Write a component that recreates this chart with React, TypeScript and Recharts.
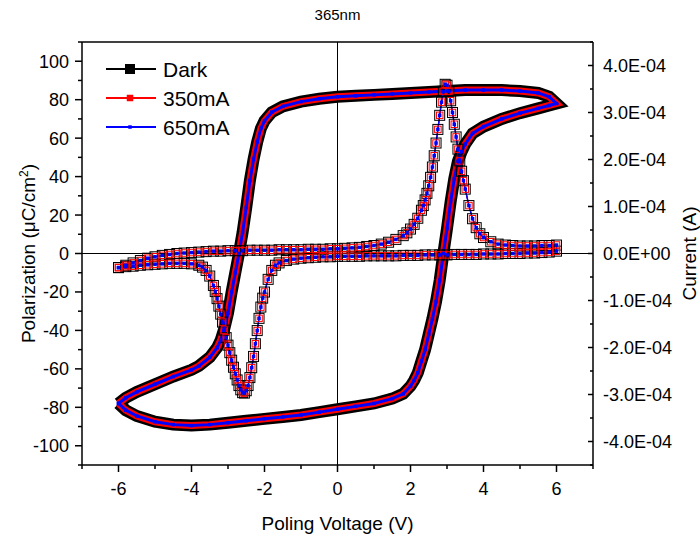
import React from "react";
import { ComposedChart, Line, XAxis, YAxis, ReferenceLine, Legend, Label } from "recharts";

// ── Data ─────────────────────────────────────────────────────────────────────

const TITLE = "365nm";

// P–V loop: lower branch -6 → 6, then upper branch 6 → -6
const loopVoltage = [
  -6.0, -5.8, -5.5, -5.0, -4.5, -4.0, -3.5, -3.0, -2.5, -2.0, -1.5, -1.0, -0.5, 0, 0.5, 1.0, 1.5, 1.8,
  2.0, 2.1, 2.2, 2.3, 2.4, 2.5, 2.6, 2.7, 2.8, 2.9, 3.0, 3.1, 3.2, 3.3, 3.4, 3.5, 3.7, 4.0, 4.5, 5.0, 5.5, 5.8, 6.0,
  5.8, 5.5, 5.0, 4.5, 4.0, 3.5, 3.0, 2.5, 2.0, 1.5, 1.0, 0.5, 0, -0.5, -1.0, -1.5, -1.8,
  -2.0, -2.1, -2.2, -2.3, -2.4, -2.5, -2.6, -2.7, -2.8, -2.9, -3.0, -3.1, -3.2, -3.3, -3.5, -3.8, -4.0, -4.5, -5.0, -5.5, -5.8, -6.0,
];
const darkPolarization = [
  -78, -81.5, -84.5, -87.5, -89, -89.5, -89, -88, -87, -86, -85, -84, -82.5, -81, -79.5, -78, -75.5, -73,
  -69, -66, -62, -56, -50, -42, -34, -25, -14, 0, 13, 27, 39, 48, 53, 57, 62.5, 66, 70, 73, 75.5, 77, 78,
  81.5, 83.5, 84.5, 85, 85, 85, 84.5, 84, 83.5, 83, 82.5, 82, 81.5, 80.5, 79, 76.5, 73.5,
  69, 65, 58, 49, 38, 24, 11, 0, -10, -20, -31, -39, -45, -49, -54, -58.5, -60.5, -64, -68, -72, -75, -78,
];
// the two illuminated loops sit on top of the dark one
const mA350Polarization = darkPolarization;
const mA650Polarization = darkPolarization;

// I–V loop: -6 → 6, then 6 → -6 (values in A)
const currentVoltage = [
  -6.0, -5.8, -5.6, -5.4, -5.2, -5.0, -4.8, -4.6, -4.4, -4.2, -4.0, -3.8, -3.6, -3.4, -3.2, -3.0, -2.8, -2.6,
  -2.4, -2.2, -2.0, -1.8, -1.6, -1.4, -1.2, -1.0, -0.8, -0.6, -0.4, -0.2, 0, 0.2, 0.4, 0.6, 0.8, 1.0, 1.2, 1.4,
  1.6, 1.8, 1.9, 2.0, 2.1, 2.2, 2.3, 2.35, 2.4, 2.45, 2.5, 2.55, 2.6, 2.65, 2.7, 2.75, 2.8, 2.85, 2.9, 2.95,
  3.0, 3.05, 3.1, 3.15, 3.2, 3.25, 3.3, 3.35, 3.4, 3.45, 3.5, 3.6, 3.7, 3.8, 3.9, 4.0, 4.2, 4.4, 4.6, 4.8,
  5.0, 5.2, 5.4, 5.6, 5.8, 6.0,
  6.0, 5.8, 5.6, 5.4, 5.2, 5.0, 4.8, 4.6, 4.4, 4.2, 4.0, 3.8, 3.6, 3.4, 3.2, 3.0, 2.8, 2.6, 2.4, 2.2, 2.0,
  1.8, 1.6, 1.4, 1.2, 1.0, 0.8, 0.6, 0.4, 0.2, 0, -0.2, -0.4, -0.6, -0.8, -1.0, -1.2, -1.4, -1.6, -1.7,
  -1.8, -1.9, -2.0, -2.05, -2.1, -2.15, -2.2, -2.25, -2.3, -2.35, -2.4, -2.45, -2.5, -2.55, -2.6, -2.65,
  -2.7, -2.75, -2.8, -2.85, -2.9, -2.95, -3.0, -3.05, -3.1, -3.15, -3.2, -3.25, -3.3, -3.35, -3.4, -3.5,
  -3.6, -3.7, -3.8, -4.0, -4.2, -4.4, -4.6, -4.8, -5.0, -5.2, -5.4, -5.6, -5.8, -6.0,
];
const darkCurrent = [
  -0.3e-4, -0.25e-4, -0.2e-4, -0.15e-4, -0.1e-4, -0.07e-4, -0.04e-4, -0.02e-4, 0, 0.01e-4, 0.02e-4, 0.03e-4,
  0.04e-4, 0.05e-4, 0.05e-4, 0.06e-4, 0.06e-4, 0.06e-4, 0.07e-4, 0.07e-4, 0.07e-4, 0.07e-4, 0.08e-4, 0.08e-4,
  0.08e-4, 0.08e-4, 0.09e-4, 0.09e-4, 0.09e-4, 0.1e-4, 0.1e-4, 0.11e-4, 0.12e-4, 0.13e-4, 0.15e-4, 0.17e-4,
  0.2e-4, 0.24e-4, 0.3e-4, 0.38e-4, 0.44e-4, 0.52e-4, 0.62e-4, 0.75e-4, 0.92e-4, 1.02e-4, 1.14e-4, 1.28e-4,
  1.44e-4, 1.62e-4, 1.84e-4, 2.08e-4, 2.35e-4, 2.64e-4, 2.94e-4, 3.22e-4, 3.45e-4, 3.6e-4,
  3.58e-4, 3.45e-4, 3.25e-4, 3.0e-4, 2.75e-4, 2.48e-4, 2.22e-4, 1.97e-4, 1.75e-4, 1.55e-4, 1.37e-4, 1.02e-4,
  0.74e-4, 0.55e-4, 0.42e-4, 0.34e-4, 0.25e-4, 0.2e-4, 0.18e-4, 0.17e-4, 0.16e-4, 0.16e-4, 0.16e-4, 0.17e-4,
  0.17e-4, 0.18e-4,
  0.05e-4, 0.03e-4, 0.02e-4, 0.01e-4, 0.01e-4, 0, 0, 0, -0.01e-4, -0.01e-4, -0.01e-4, -0.02e-4, -0.02e-4,
  -0.02e-4, -0.02e-4, -0.03e-4, -0.03e-4, -0.03e-4, -0.03e-4, -0.04e-4, -0.04e-4, -0.04e-4, -0.05e-4,
  -0.05e-4, -0.05e-4, -0.05e-4, -0.05e-4, -0.06e-4, -0.06e-4, -0.06e-4, -0.06e-4, -0.07e-4, -0.07e-4,
  -0.08e-4, -0.09e-4, -0.1e-4, -0.12e-4, -0.15e-4, -0.2e-4, -0.25e-4,
  -0.36e-4, -0.55e-4, -0.82e-4, -0.95e-4, -1.14e-4, -1.38e-4, -1.64e-4, -1.92e-4, -2.19e-4, -2.43e-4,
  -2.64e-4, -2.81e-4, -2.92e-4, -2.97e-4, -2.96e-4, -2.9e-4,
  -2.81e-4, -2.69e-4, -2.56e-4, -2.42e-4, -2.27e-4, -2.11e-4, -1.95e-4, -1.79e-4, -1.63e-4, -1.46e-4,
  -1.29e-4, -1.12e-4, -0.96e-4, -0.81e-4, -0.68e-4, -0.48e-4,
  -0.36e-4, -0.29e-4, -0.25e-4, -0.22e-4, -0.21e-4, -0.21e-4, -0.21e-4, -0.22e-4, -0.23e-4, -0.24e-4,
  -0.25e-4, -0.27e-4, -0.28e-4, -0.3e-4,
];
const mA350Current = darkCurrent;
const mA650Current = darkCurrent;

const xTicks = [-7, -6, -5, -4, -3, -2, -1, 0, 1, 2, 3, 4, 5, 6, 7];
const polTicks = [-110, -100, -90, -80, -70, -60, -50, -40, -30, -20, -10, 0, 10, 20, 30, 40, 50, 60, 70, 80, 90, 100, 110];
const currentTicks = [
  -4.5e-4, -4e-4, -3.5e-4, -3e-4, -2.5e-4, -2e-4, -1.5e-4, -1e-4, -0.5e-4, 0,
  0.5e-4, 1e-4, 1.5e-4, 2e-4, 2.5e-4, 3e-4, 3.5e-4, 4e-4, 4.5e-4,
];

// ── Styling ──────────────────────────────────────────────────────────────────

const FONT = "'Liberation Sans', Arial, Helvetica, sans-serif";
const AXIS = { stroke: "#000", strokeWidth: 1.5 };

// box = marker size, band = width of the P-loop stroke
const SERIES = [
  { name: "Dark", color: "#000000", pol: darkPolarization, cur: darkCurrent, box: 10, band: 12, hollow: true },
  { name: "350mA", color: "#ff0000", pol: mA350Polarization, cur: mA350Current, box: 6.5, band: 7, hollow: true },
  { name: "650mA", color: "#0000ff", pol: mA650Polarization, cur: mA650Current, box: 3.5, band: 3, hollow: false },
];

const toPoints = (xs: number[], ys: number[]) => xs.map((x, i) => ({ x, y: ys[i] }));

function sciLabel(v: number): string {
  if (Math.abs(v) < 1e-12) return "0.0E+00";
  const exp = Math.floor(Math.log10(Math.abs(v)) + 1e-9);
  const mant = v / Math.pow(10, exp);
  return `${mant.toFixed(1)}E${exp < 0 ? "-" : "+"}${String(Math.abs(exp)).padStart(2, "0")}`;
}

// ── Square markers ───────────────────────────────────────────────────────────

const squareDot = (size: number, color: string, hollow: boolean) => (props: any) => {
  const { cx, cy, index } = props;
  if (cx == null || cy == null) return <g key={`e${index}`} />;
  return (
    <rect
      key={`d${index}`}
      x={cx - size / 2}
      y={cy - size / 2}
      width={size}
      height={size}
      fill={hollow ? "none" : color}
      stroke={hollow ? color : "none"}
      strokeWidth={hollow ? 1 : 0}
    />
  );
};

// ── Ticks (major + minor drawn by hand) ──────────────────────────────────────

function BottomTick({ x, y, payload }: any) {
  const major = payload.value % 2 === 0;
  return (
    <g>
      <line x1={x} x2={x} y1={y} y2={y + (major ? 7 : 4)} stroke="#000" strokeWidth={1.5} />
      {major && (
        <text x={x} y={y + 30} textAnchor="middle" fontSize={18} fontFamily={FONT} fill="#000">
          {payload.value}
        </text>
      )}
    </g>
  );
}

function LeftTick({ x, y, payload }: any) {
  const major = payload.value % 20 === 0;
  return (
    <g>
      <line x1={x - (major ? 7 : 4)} x2={x} y1={y} y2={y} stroke="#000" strokeWidth={1.5} />
      {major && (
        <text x={x - 13} y={y + 6.5} textAnchor="end" fontSize={18} fontFamily={FONT} fill="#000">
          {payload.value}
        </text>
      )}
    </g>
  );
}

function RightTick({ x, y, payload }: any) {
  const scaled = payload.value * 1e4;
  const major = Math.abs(scaled - Math.round(scaled)) < 1e-6;
  return (
    <g>
      <line x1={x - (major ? 5 : 3)} x2={x} y1={y} y2={y} stroke="#000" strokeWidth={1.5} />
      {major && (
        <text x={x + 10} y={y + 6.5} textAnchor="start" fontSize={18} fontFamily={FONT} fill="#000">
          {sciLabel(payload.value)}
        </text>
      )}
    </g>
  );
}

function LegendBox() {
  return (
    <svg width={180} height={90} style={{ display: "block" }}>
      {SERIES.map((s, i) => {
        const cy = 14 + i * 29;
        return (
          <g key={s.name}>
            <line x1={6} x2={56} y1={cy} y2={cy} stroke={s.color} strokeWidth={2} />
            <rect x={30 - s.box / 2} y={cy - s.box / 2} width={s.box} height={s.box} fill={s.color} />
            <text x={63} y={cy + 7.5} fontSize={21} fontFamily={FONT} fill="#000">
              {s.name}
            </text>
          </g>
        );
      })}
    </svg>
  );
}

// ── Chart ────────────────────────────────────────────────────────────────────

export default function App() {
  const series = SERIES.flatMap((s) => [
    // hysteresis loop: a solid band per series (markers overlap into one in the original)
    <Line
      key={`${s.name}-pol`}
      name={s.name}
      data={toPoints(loopVoltage, s.pol)}
      dataKey="y"
      xAxisId="v"
      yAxisId="p"
      type="linear"
      stroke={s.color}
      strokeWidth={s.band}
      dot={s.hollow ? false : squareDot(s.box, s.color, false)}
      activeDot={false}
      isAnimationActive={false}
    />,
    // switching current: open squares (filled for 650mA)
    <Line
      key={`${s.name}-cur`}
      name={`${s.name} current`}
      data={toPoints(currentVoltage, s.cur)}
      dataKey="y"
      xAxisId="v"
      yAxisId="i"
      type="linear"
      stroke={s.color}
      strokeWidth={s.hollow ? 1 : 1.5}
      dot={squareDot(s.box, s.color, s.hollow)}
      activeDot={false}
      legendType="none"
      isAnimationActive={false}
    />,
  ]);

  return (
    <div style={{ position: "absolute", left: 0, top: 0, width: 700, height: 538, background: "#fff" }}>
      <div
        style={{
          position: "absolute",
          left: 0,
          width: 675,
          top: 6,
          textAlign: "center",
          fontFamily: FONT,
          fontSize: 15,
          color: "#000",
        }}
      >
        {TITLE}
      </div>
      <ComposedChart width={700} height={538} margin={{ top: 42, right: 0, bottom: 0, left: 0 }}>
        <XAxis
          xAxisId="v"
          dataKey="x"
          type="number"
          domain={[-7, 7]}
          allowDataOverflow
          ticks={xTicks}
          interval={0}
          height={73}
          tickSize={0}
          tickMargin={0}
          tickLine={false}
          axisLine={AXIS}
          tick={(p: any) => <BottomTick {...p} />}
        >
          <Label
            content={({ viewBox }: any) => (
              <text
                x={viewBox.x + viewBox.width / 2}
                y={530}
                textAnchor="middle"
                fontSize={19}
                fontFamily={FONT}
                fill="#000"
              >
                Poling Voltage (V)
              </text>
            )}
          />
        </XAxis>
        <YAxis
          yAxisId="p"
          type="number"
          domain={[-110, 110]}
          allowDataOverflow
          ticks={polTicks}
          interval={0}
          width={82}
          tickSize={0}
          tickMargin={0}
          tickLine={false}
          axisLine={AXIS}
          tick={(p: any) => <LeftTick {...p} />}
        >
          <Label
            content={({ viewBox }: any) => {
              const cx = 35;
              const cy = viewBox.y + viewBox.height / 2;
              return (
                <text
                  x={cx}
                  y={cy}
                  transform={`rotate(-90, ${cx}, ${cy})`}
                  textAnchor="middle"
                  fontSize={19}
                  fontFamily={FONT}
                  fill="#000"
                >
                  Polarization (μC/cm
                  <tspan dy={-7} fontSize={12}>2</tspan>
                  <tspan dy={7}>)</tspan>
                </text>
              );
            }}
          />
        </YAxis>
        <YAxis
          yAxisId="i"
          orientation="right"
          type="number"
          domain={[-4.5e-4, 4.5e-4]}
          allowDataOverflow
          ticks={currentTicks}
          interval={0}
          width={107}
          tickSize={0}
          tickMargin={0}
          tickLine={false}
          axisLine={AXIS}
          tick={(p: any) => <RightTick {...p} />}
        >
          <Label
            content={({ viewBox }: any) => {
              const cx = 696;
              const cy = viewBox.y + viewBox.height / 2;
              return (
                <text
                  x={cx}
                  y={cy}
                  transform={`rotate(-90, ${cx}, ${cy})`}
                  textAnchor="middle"
                  fontSize={19}
                  fontFamily={FONT}
                  fill="#000"
                >
                  Current (A)
                </text>
              );
            }}
          />
        </YAxis>
        <ReferenceLine xAxisId="v" yAxisId="p" y={110} stroke="#000" strokeWidth={1.5} />
        <ReferenceLine xAxisId="v" yAxisId="p" y={0} stroke="#000" strokeWidth={1} />
        <ReferenceLine xAxisId="v" yAxisId="p" x={0} stroke="#000" strokeWidth={1} />
        {series}
        <Legend
          layout="horizontal"
          align="center"
          verticalAlign="middle"
          wrapperStyle={{ left: 100, top: 55, width: 180, height: 90 }}
          content={() => <LegendBox />}
        />
      </ComposedChart>
    </div>
  );
}
